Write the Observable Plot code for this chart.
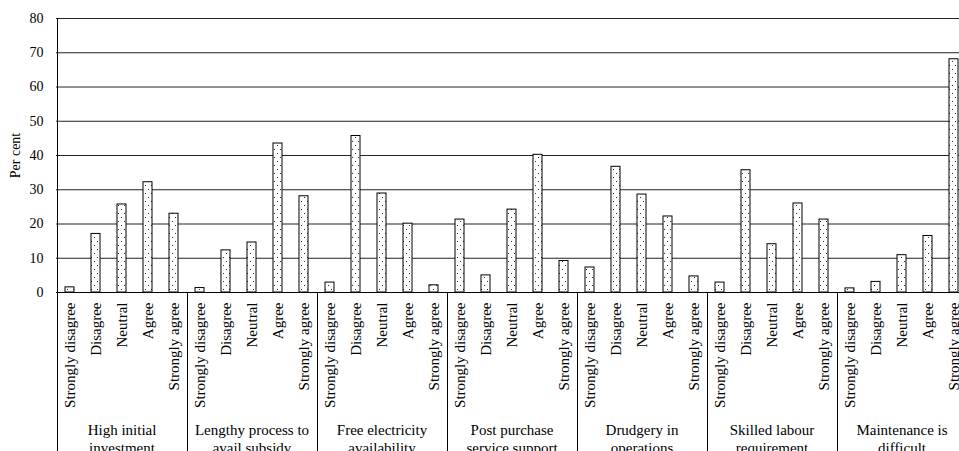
<!DOCTYPE html>
<html><head><meta charset="utf-8">
<script src="https://cdn.jsdelivr.net/npm/d3@7"></script>
<script src="https://cdn.jsdelivr.net/npm/@observablehq/plot@0.6"></script>
<style>
html,body{margin:0;padding:0;overflow:hidden;background:#fff;}
#chart{width:959px;height:451px;overflow:hidden;}
#chart svg{max-width:none !important;height:451px !important;}
</style></head><body><div id="chart"></div>
<script>
const groups = ["High initial\ninvestment", "Lengthy process to\navail subsidy", "Free electricity\navailability", "Post purchase\nservice support", "Drudgery in\noperations", "Skilled labour\nrequirement", "Maintenance is\ndifficult"];
const categories = ["Strongly disagree", "Disagree", "Neutral", "Agree", "Strongly agree"];
const highInitialInvestment = [1.5, 17.1, 25.7, 32.2, 23.0];
const lengthyProcess = [1.3, 12.3, 14.6, 43.5, 28.1];
const freeElectricity = [2.9, 45.7, 28.9, 20.1, 2.1];
const postPurchase = [21.3, 5.0, 24.2, 40.2, 9.2];
const drudgery = [7.3, 36.7, 28.6, 22.2, 4.7];
const skilledLabour = [2.9, 35.7, 14.1, 26.0, 21.3];
const maintenance = [1.2, 3.1, 10.9, 16.5, 68.1];
const yTicks = [0, 10, 20, 30, 40, 50, 60, 70, 80];

const series = [highInitialInvestment, lengthyProcess, freeElectricity, postPurchase, drudgery, skilledLabour, maintenance];
const rows = [];
series.forEach((vals, gi) => vals.forEach((v, ci) => rows.push({key: gi + "|" + categories[ci], group: groups[gi], category: categories[ci], value: v})));
const keys = rows.map(d => d.key);
const groupRows = groups.map((g, gi) => ({key: gi + "|" + categories[2], label: g, first: gi + "|" + categories[0], last: gi + "|" + categories[4]}));

const separators = (index, scales, values, dims) => {
  const x = scales.x, y = scales.y;
  const g = d3.create("svg:g").attr("stroke", "black").attr("stroke-width", 1);
  const step = x(keys[1]) - x(keys[0]);
  const bw = x.bandwidth ? x.bandwidth() : 0;
  groupRows.forEach((gr, i) => {
    const xb = Math.round(x(gr.first) + bw / 2 - step / 2) + 0.5;
    g.append("line").attr("x1", xb).attr("x2", xb)
      .attr("y1", i === 0 ? y(80) : y(0)).attr("y2", dims.height);
  });
  const last = groupRows[groupRows.length - 1];
  const xe = Math.round(x(last.last) + bw / 2 + step / 2) + 0.5;
  g.append("line").attr("x1", xe).attr("x2", xe).attr("y1", y(80)).attr("y2", dims.height);
  return g.node();
};

const FONT = "'Liberation Serif', 'Times New Roman', serif";
const plot = Plot.plot({
  width: 972, height: 451,
  marginLeft: 56, marginRight: 6, marginTop: 18, marginBottom: 159,
  style: {fontFamily: FONT, fontSize: "15px", background: "white", color: "black", overflow: "hidden", maxWidth: "none"},
  x: {domain: keys, paddingInner: 0.67, paddingOuter: 0.335, align: 0.5, axis: null},
  y: {domain: [0, 80], axis: null},
  marks: [
    Plot.ruleY(yTicks, {stroke: "#222", strokeWidth: 1}),
    Plot.axisY({ticks: yTicks, tickSize: 0, tickPadding: 13, label: "Per cent", labelAnchor: "center", labelArrow: "none", labelOffset: 46, fontSize: 14}),
    Plot.barY(rows, {x: "key", y: "value", fill: "url(#dots)", stroke: "black", strokeWidth: 1}),
    Plot.axisX({tickFormat: k => k.split("|")[1], tickRotate: -90, tickSize: 0, tickPadding: 10, label: null, fontSize: 15}),
    Plot.ruleY([0], {stroke: "black", strokeWidth: 1.2}),
    separators,
    Plot.text(groupRows, {x: "key", text: "label", frameAnchor: "bottom", lineAnchor: "bottom", dy: 160, lineHeight: 1.2, fontSize: 15, fill: "black"})
  ]
});

const defs = d3.create("svg:defs");
const pat = defs.append("pattern").attr("id", "dots").attr("patternUnits", "userSpaceOnUse").attr("width", 6).attr("height", 8);
pat.append("rect").attr("width", 6).attr("height", 8).attr("fill", "white");
pat.append("rect").attr("x", 1).attr("y", 1).attr("width", 1).attr("height", 1).attr("fill", "#333");
pat.append("rect").attr("x", 4).attr("y", 5).attr("width", 1).attr("height", 1).attr("fill", "#333");
plot.insertBefore(defs.node(), plot.firstChild);
plot.setAttribute("font-family", FONT);
plot.style.setProperty("font-family", FONT, "important");
plot.querySelectorAll("g, text").forEach(el => {
  if (el.hasAttribute("font-family")) el.setAttribute("font-family", FONT);
  if (el.tagName.toLowerCase() === "text") el.style.setProperty("font-family", FONT, "important");
});
document.getElementById("chart").appendChild(plot);
</script>
</body></html>
